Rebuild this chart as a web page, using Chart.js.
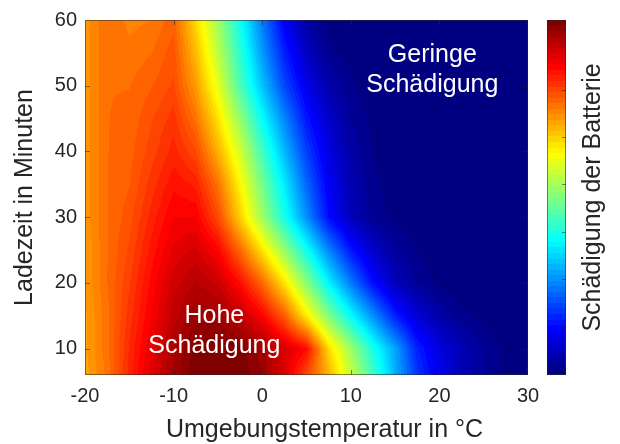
<!DOCTYPE html>
<html><head><meta charset="utf-8">
<script src="https://cdn.jsdelivr.net/npm/chart.js@4/dist/chart.umd.min.js"></script>
<style>html,body{margin:0;padding:0;background:#fff;}canvas{display:block;}</style>
</head><body>
<canvas id="c" width="620" height="444"></canvas>
<script>
// ---- data (normalised damage, 0 = none, 1 = max) ----
const temps = [-20,-17.5,-15,-12.5,-10,-7.5,-5,-2.5,0,2.5,5,7.5,10,12.5,15,17.5,20,22.5,25,27.5,30];
const times = [6,10,15,20,25,30,35,40,45,50,55,60];
const row6  = [0.71,0.755,0.835,0.90,0.96,1.00,1.00,1.00,0.97,0.90,0.80,0.70,0.57,0.44,0.30,0.18,0.11,0.06,0.03,0.01,0.00];
const row10 = [0.715,0.76,0.83,0.89,0.95,0.99,1.00,0.99,0.96,0.91,0.86,0.66,0.53,0.40,0.29,0.16,0.10,0.06,0.03,0.01,0.00];
const row15 = [0.715,0.76,0.82,0.875,0.93,0.965,0.96,0.93,0.87,0.78,0.64,0.50,0.38,0.27,0.16,0.09,0.045,0.02,0.01,0.00,0.00];
const row20 = [0.72,0.765,0.81,0.865,0.915,0.94,0.92,0.86,0.77,0.65,0.51,0.37,0.25,0.14,0.065,0.03,0.01,0.00,0.00,0.00,0.00];
const row25 = [0.72,0.765,0.80,0.85,0.895,0.91,0.87,0.77,0.65,0.52,0.39,0.26,0.15,0.08,0.035,0.015,0.005,0.00,0.00,0.00,0.00];
const row30 = [0.725,0.765,0.79,0.835,0.875,0.875,0.80,0.67,0.53,0.40,0.27,0.14,0.065,0.025,0.01,0.00,0.00,0.00,0.00,0.00,0.00];
const row35 = [0.725,0.765,0.78,0.82,0.855,0.84,0.76,0.63,0.49,0.36,0.23,0.12,0.055,0.02,0.005,0.00,0.00,0.00,0.00,0.00,0.00];
const row40 = [0.725,0.765,0.775,0.805,0.835,0.80,0.70,0.58,0.44,0.31,0.19,0.10,0.045,0.015,0.00,0.00,0.00,0.00,0.00,0.00,0.00];
const row45 = [0.725,0.765,0.77,0.795,0.82,0.76,0.65,0.52,0.38,0.26,0.15,0.08,0.03,0.01,0.00,0.00,0.00,0.00,0.00,0.00,0.00];
const row50 = [0.725,0.765,0.765,0.78,0.80,0.72,0.60,0.45,0.32,0.20,0.11,0.05,0.02,0.00,0.00,0.00,0.00,0.00,0.00,0.00,0.00];
const row55 = [0.725,0.765,0.755,0.765,0.79,0.69,0.56,0.42,0.28,0.16,0.07,0.02,0.005,0.00,0.00,0.00,0.00,0.00,0.00,0.00,0.00];
const row60 = [0.725,0.765,0.745,0.75,0.775,0.66,0.53,0.39,0.25,0.12,0.04,0.01,0.00,0.00,0.00,0.00,0.00,0.00,0.00,0.00,0.00];
const damageRows = [row6,row10,row15,row20,row25,row30,row35,row40,row45,row50,row55,row60];

const xTicks = [-20,-10,0,10,20,30];
const yTicks = [10,20,30,40,50,60];
const cbTicks = [0.137,0.27,0.404,0.537,0.67,0.804,0.937];
const noteLow  = ['Geringe','Schädigung'];
const noteHigh = ['Hohe','Schädigung'];
const noteLowAt  = {x:19.2, y:52.4};
const noteHighAt = {x:-5.4, y:12.7};

// ---- helpers ----
const FONT = "'Liberation Sans', Arial, Helvetica, sans-serif";
Chart.defaults.font.family = FONT;
const TXT = '#262626';

function jet(v){
  v = Math.max(0, Math.min(1, v));
  const q = Math.min(63, Math.floor(v*64)) / 63;
  const c = k => Math.round(255*Math.max(0, Math.min(1, 1.5 - Math.abs(4*q - k))));
  return [c(3), c(2), c(1)];
}
function locate(arr, val){
  const n = arr.length;
  if (val <= arr[0]) return [0,0];
  if (val >= arr[n-1]) return [n-2,1];
  let i = 0; while (val > arr[i+1]) i++;
  return [i, (val-arr[i])/(arr[i+1]-arr[i])];
}
function damageAt(T, t){
  const [i,fx] = locate(temps, T), [j,fy] = locate(times, t);
  const r0 = damageRows[j], r1 = damageRows[j+1];
  const a = r0[i]*(1-fx) + r0[i+1]*fx, b = r1[i]*(1-fx) + r1[i+1]*fx;
  return a*(1-fy) + b*fy;
}

const gridPoints = [];
times.forEach((t,j) => temps.forEach((T,i) => gridPoints.push({x:T, y:t, v:damageRows[j][i]})));

const fieldPlugin = {
  id:'field',
  beforeDatasetsDraw(chart){
    const {ctx, chartArea:a, scales} = chart;
    const xs = scales.x, ys = scales.y, cb = scales.cb;
    const w = Math.round(a.right - a.left), h = Math.round(a.bottom - a.top);
    const off = document.createElement('canvas'); off.width = w; off.height = h;
    const octx = off.getContext('2d'); const img = octx.createImageData(w, h);
    for (let py = 0; py < h; py++){
      const t = ys.getValueForPixel(a.top + py + 0.5);
      for (let px = 0; px < w; px++){
        const T = xs.getValueForPixel(a.left + px + 0.5);
        const [r,g,b] = jet(damageAt(T, t));
        const k = (py*w + px)*4;
        img.data[k] = r; img.data[k+1] = g; img.data[k+2] = b; img.data[k+3] = 255;
      }
    }
    octx.putImageData(img, 0, 0);
    ctx.drawImage(off, a.left, a.top);
    const cx = a.right + 19, cw = 19;
    for (let py = Math.round(cb.top); py < Math.round(cb.bottom); py++){
      const [r,g,b] = jet(cb.getValueForPixel(py + 0.5));
      ctx.fillStyle = `rgb(${r},${g},${b})`;
      ctx.fillRect(cx, py, cw, 1);
    }
  },
  afterDraw(chart){
    const {ctx, chartArea:a, scales} = chart;
    const xs = scales.x, ys = scales.y, cb = scales.cb;
    ctx.save();
    ctx.strokeStyle = 'rgba(38,38,38,0.55)';
    ctx.lineWidth = 1;
    ctx.strokeRect(a.left + 0.5, a.top + 0.5, a.right - a.left - 1, a.bottom - a.top - 1);
    ctx.beginPath();
    xTicks.forEach(v => {
      const p = Math.round(xs.getPixelForValue(v)) + 0.5;
      if (p < a.left + 2 || p > a.right - 2) return;
      ctx.moveTo(p, a.bottom); ctx.lineTo(p, a.bottom - 5);
      ctx.moveTo(p, a.top); ctx.lineTo(p, a.top + 5);
    });
    yTicks.forEach(v => {
      const p = Math.round(ys.getPixelForValue(v)) + 0.5;
      if (p < a.top + 2 || p > a.bottom - 2) return;
      ctx.moveTo(a.left, p); ctx.lineTo(a.left + 5, p);
      ctx.moveTo(a.right, p); ctx.lineTo(a.right - 5, p);
    });
    ctx.stroke();
    const cx = a.right + 19, cw = 19;
    ctx.strokeRect(cx + 0.5, cb.top + 0.5, cw - 1, cb.bottom - cb.top - 1);
    ctx.beginPath();
    cbTicks.forEach(v => {
      const p = Math.round(cb.getPixelForValue(v)) + 0.5;
      ctx.moveTo(cx + cw, p); ctx.lineTo(cx + cw - 4, p);
    });
    ctx.stroke();
    // annotations
    ctx.fillStyle = '#ffffff';
    ctx.font = "25px " + FONT;
    ctx.textAlign = 'center'; ctx.textBaseline = 'middle';
    [[noteLow, noteLowAt], [noteHigh, noteHighAt]].forEach(([lines, at]) => {
      const px = xs.getPixelForValue(at.x), py = ys.getPixelForValue(at.y);
      lines.forEach((s, i) => ctx.fillText(s, px, py + (i - (lines.length-1)/2)*30));
    });
    // x axis title
    ctx.fillStyle = TXT;
    ctx.fillText('Umgebungstemperatur in °C', (a.left + a.right)/2 + 18, a.bottom + 55);
    // colour bar label
    ctx.translate(a.right + 65, (cb.top + cb.bottom)/2);
    ctx.rotate(-Math.PI/2);
    ctx.fillText('Schädigung der Batterie', 0, 0);
    ctx.restore();
  }
};

new Chart(document.getElementById('c'), {
  type:'scatter',
  data:{datasets:[{data:gridPoints, pointRadius:0, pointHoverRadius:0, showLine:false}]},
  options:{
    responsive:false, animation:false, devicePixelRatio:1,
    layout:{padding:{top:20, left:0, right:0, bottom:0}},
    plugins:{legend:{display:false}, tooltip:{enabled:false}},
    events:[],
    scales:{
      x:{type:'linear', position:'bottom', min:-20, max:30,
         afterBuildTicks: s => { s.ticks = xTicks.map(v => ({value:v})); },
         ticks:{font:{size:20}, color:TXT, padding:9, maxRotation:0, autoSkip:false},
         grid:{display:false, drawTicks:false}, border:{display:false},
         title:{display:false},
         afterFit: s => { s.height = 69; }},
      y:{type:'linear', position:'left', min:6, max:60,
         afterBuildTicks: s => { s.ticks = yTicks.map(v => ({value:v})); },
         ticks:{font:{size:20}, color:TXT, padding:8, autoSkip:false},
         grid:{display:false, drawTicks:false}, border:{display:false},
         title:{display:true, text:'Ladezeit in Minuten', color:TXT, font:{size:25}, padding:{top:10, bottom:0}},
         afterFit: s => { s.width = 85; }},
      cb:{type:'linear', axis:'y', position:'right', min:0, max:1,
         ticks:{display:false}, grid:{display:false, drawTicks:false}, border:{display:false},
         afterFit: s => { s.width = 92; }}
    }
  },
  plugins:[fieldPlugin]
});
</script>
</body></html>
